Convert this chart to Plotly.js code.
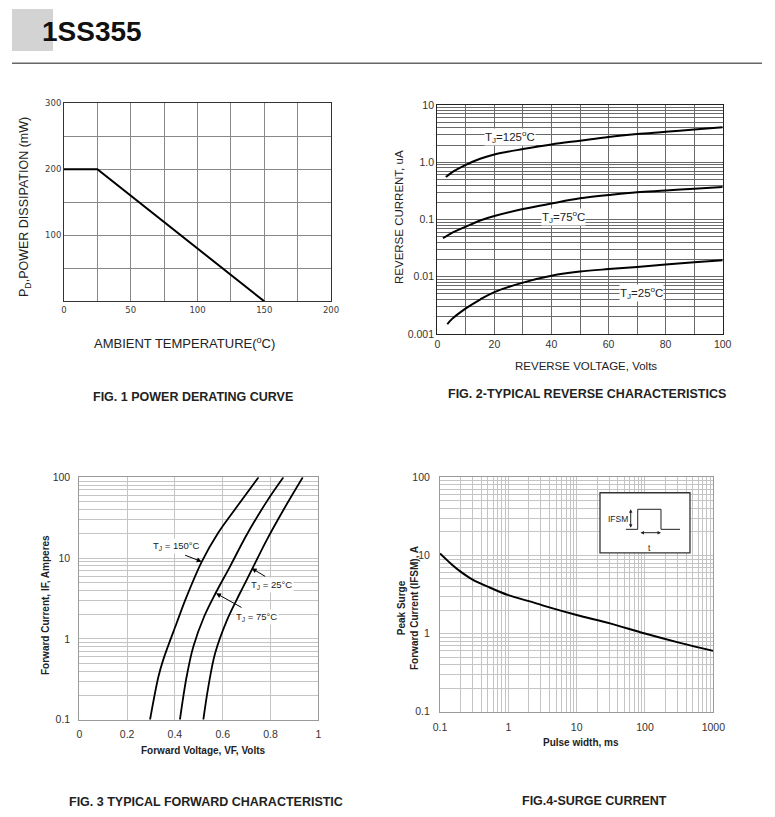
<!DOCTYPE html>
<html><head><meta charset="utf-8">
<script src="https://cdn.plot.ly/plotly-3.0.1.min.js"></script>
<style>html,body{margin:0;padding:0;background:#fff}#chart{width:775px;height:817px}</style>
</head><body><div id="chart"></div>
<script>
// ---------- Fig.1 power derating ----------
const tempC = [0, 25, 150];
const powerMW = [200, 200, 0];
const fig1XTicks = [0, 50, 100, 150, 200];
const fig1XLabels = ['0', '50', '100', '150', '200'];
const fig1YTicks = [100, 200, 300];
const fig1YLabels = ['100', '200', '300'];

// ---------- Fig.2 reverse characteristics ----------
const vr125 = [3, 5, 10, 15, 20, 30, 40, 50, 60, 70, 80, 90, 100];
const ir125 = [0.55, 0.66, 0.9, 1.15, 1.37, 1.7, 2.05, 2.38, 2.76, 3.1, 3.4, 3.75, 4.1];
const vr75 = [2, 5, 10, 15, 20, 30, 40, 50, 60, 70, 80, 90, 100];
const ir75 = [0.047, 0.058, 0.075, 0.096, 0.115, 0.152, 0.19, 0.234, 0.268, 0.30, 0.32, 0.345, 0.37];
const vr25 = [3.5, 5, 10, 15, 20, 30, 40, 50, 60, 70, 80, 90, 100];
const ir25 = [0.00148, 0.0018, 0.0028, 0.0040, 0.0054, 0.0079, 0.0104, 0.0123, 0.0136, 0.0148, 0.0163, 0.0179, 0.0194];
const fig2XTicks = [0, 20, 40, 60, 80, 100];
const fig2XLabels = ['0', '20', '40', '60', '80', '100'];
const fig2YTicks = [0.001, 0.01, 0.1, 1, 10];
const fig2YLabels = ['0.001', '0.01', '0.1', '1.0', '10'];

// ---------- Fig.3 forward characteristics ----------
const vf150 = [0.296, 0.331, 0.351, 0.407, 0.449, 0.512, 0.580, 0.660, 0.750];
const if150 = [0.1, 0.34, 0.55, 1.56, 3.33, 9.0, 20.3, 43.4, 100];
const vf75 = [0.421, 0.449, 0.477, 0.522, 0.570, 0.630, 0.700, 0.784, 0.854];
const if75 = [0.1, 0.34, 0.8, 1.88, 3.67, 7.8, 19.3, 50, 100];
const vf25 = [0.519, 0.540, 0.568, 0.618, 0.672, 0.721, 0.784, 0.854, 0.935];
const if25 = [0.1, 0.256, 0.66, 1.71, 3.67, 7.1, 16.7, 39.4, 100];
const fig3XTicks = [0, 0.2, 0.4, 0.6, 0.8, 1];
const fig3XLabels = ['0', '0.2', '0.4', '0.6', '0.8', '1'];
const fig3YTicks = [0.1, 1, 10, 100];
const fig3YLabels = ['0.1', '1', '10', '100'];

// ---------- Fig.4 surge current ----------
const pulseMs = [0.1, 0.15, 0.2, 0.3, 0.5, 1, 2, 3.25, 10, 30.8, 100, 325, 1000];
const ifsmA = [10.6, 7.6, 6.2, 4.9, 3.98, 3.1, 2.6, 2.28, 1.73, 1.35, 1.0, 0.76, 0.6];
const fig4XTicks = [0.1, 1, 10, 100, 1000];
const fig4XLabels = ['0.1', '1', '10', '100', '1000'];
const fig4YTicks = [0.1, 1, 10, 100];
const fig4YLabels = ['0.1', '1', '10', '100'];

// ---------- helpers ----------
const W = 775, H = 817;
const px = x => x / W;
const py = y => 1 - y / H;
// grid positions 2..9 x decade for log axes (grid only, not data)
function logGrid(e0, e1) {
  const v = [];
  for (let e = e0; e < e1; e++) for (let m = 2; m < 10; m++) v.push(+(m * Math.pow(10, e)).toPrecision(3));
  return v;
}

const AR = 'Liberation Sans, Arial, sans-serif';

const traces = [
  {x: tempC, y: powerMW, mode: 'lines', line: {color: '#000', width: 2}, xaxis: 'x', yaxis: 'y'},
  {x: vr125, y: ir125, mode: 'lines', line: {color: '#000', width: 2, shape: 'spline'}, xaxis: 'x2', yaxis: 'y2'},
  {x: vr75, y: ir75, mode: 'lines', line: {color: '#000', width: 2, shape: 'spline'}, xaxis: 'x2', yaxis: 'y2'},
  {x: vr25, y: ir25, mode: 'lines', line: {color: '#000', width: 2, shape: 'spline'}, xaxis: 'x2', yaxis: 'y2'},
  {x: vf150, y: if150, mode: 'lines', line: {color: '#000', width: 1.8, shape: 'spline'}, xaxis: 'x3', yaxis: 'y3'},
  {x: vf75, y: if75, mode: 'lines', line: {color: '#000', width: 1.8, shape: 'spline'}, xaxis: 'x3', yaxis: 'y3'},
  {x: vf25, y: if25, mode: 'lines', line: {color: '#000', width: 1.8, shape: 'spline'}, xaxis: 'x3', yaxis: 'y3'},
  {x: pulseMs, y: ifsmA, mode: 'lines', line: {color: '#000', width: 2, shape: 'spline'}, xaxis: 'x4', yaxis: 'y4'}
];

function ax(o) {
  return Object.assign({showline: true, mirror: true, zeroline: false, showgrid: true, tickmode: 'array', fixedrange: true, automargin: false}, o);
}

const f1tick = {family: 'DejaVu Sans, sans-serif', size: 8.5, color: '#3a3a3a'};
const f2tick = {family: AR, size: 10.5, color: '#333'};
const f3tick = {family: AR, size: 10.5, color: '#333'};
const g1 = '#888', g2 = '#6a6a6a', g3 = '#c4c4c4';

const layout = {
  width: W, height: H, showlegend: false,
  margin: {l: 0, r: 0, t: 0, b: 0},
  paper_bgcolor: '#fff', plot_bgcolor: '#fff',
  font: {family: AR, color: '#222'},
  xaxis: ax({domain: [px(64), px(331)], anchor: 'y', range: [0, 200], tickvals: fig1XTicks, ticktext: fig1XLabels,
    gridcolor: g1, linecolor: '#333', linewidth: 1, tickfont: f1tick, ticks: '',
    minor: {tickmode: 'linear', tick0: 25, dtick: 50, showgrid: true, gridcolor: g1, ticks: ''}}),
  yaxis: ax({domain: [py(301.3), py(103.3)], anchor: 'x', range: [0, 300], tickvals: fig1YTicks, ticktext: fig1YLabels,
    gridcolor: g1, linecolor: '#333', linewidth: 1, tickfont: f1tick, ticks: '',
    minor: {tickmode: 'linear', tick0: 50, dtick: 100, showgrid: true, gridcolor: g1, ticks: ''}}),
  xaxis2: ax({domain: [px(437.3), px(722.7)], anchor: 'y2', range: [0, 100], tickvals: fig2XTicks, ticktext: fig2XLabels,
    gridcolor: g2, linecolor: '#222', linewidth: 1.2, tickfont: f2tick, ticks: '',
    minor: {tickmode: 'linear', tick0: 10, dtick: 20, showgrid: true, gridcolor: g2, ticks: ''}}),
  yaxis2: ax({domain: [py(334), py(105)], anchor: 'x2', type: 'log', range: [-3, 1], tickvals: fig2YTicks, ticktext: fig2YLabels,
    gridcolor: g2, linecolor: '#222', linewidth: 1.2, tickfont: f2tick, ticks: '',
    minor: {tickmode: 'array', tickvals: logGrid(-3, 1), showgrid: true, gridcolor: g2, ticks: ''}}),
  xaxis3: ax({domain: [px(79.3), px(318.3)], anchor: 'y3', range: [0, 1], tickvals: fig3XTicks, ticktext: fig3XLabels,
    gridcolor: g3, linecolor: '#9a9a9a', linewidth: 1, tickfont: f3tick, ticks: 'outside', ticklen: 5, tickcolor: 'rgba(0,0,0,0)'}),
  yaxis3: ax({domain: [py(719.7), py(477.3)], anchor: 'x3', type: 'log', range: [-1, 2], tickvals: fig3YTicks, ticktext: fig3YLabels,
    gridcolor: g3, linecolor: '#9a9a9a', linewidth: 1, tickfont: f3tick, ticks: 'outside', ticklen: 6, tickcolor: 'rgba(0,0,0,0)',
    minor: {tickmode: 'array', tickvals: logGrid(-1, 2), showgrid: true, gridcolor: g3, ticks: ''}}),
  xaxis4: ax({domain: [px(440), px(713.3)], anchor: 'y4', type: 'log', range: [-1, 3], tickvals: fig4XTicks, ticktext: fig4XLabels,
    gridcolor: g3, linecolor: '#9a9a9a', linewidth: 1, tickfont: f3tick, ticks: 'outside', ticklen: 6, tickcolor: 'rgba(0,0,0,0)',
    minor: {tickmode: 'array', tickvals: logGrid(-1, 3), showgrid: true, gridcolor: g3, ticks: ''}}),
  yaxis4: ax({domain: [py(711.7), py(477.3)], anchor: 'x4', type: 'log', range: [-1, 2], tickvals: fig4YTicks, ticktext: fig4YLabels,
    gridcolor: g3, linecolor: '#9a9a9a', linewidth: 1, tickfont: f3tick, ticks: 'outside', ticklen: 7, tickcolor: 'rgba(0,0,0,0)',
    minor: {tickmode: 'array', tickvals: logGrid(-1, 2), showgrid: true, gridcolor: g3, ticks: ''}}),
  shapes: [
    {type: 'rect', xref: 'paper', yref: 'paper', x0: px(12), x1: px(53), y0: py(51), y1: py(9), fillcolor: '#d3d3d3', line: {width: 0}, layer: 'below'},
    {type: 'line', xref: 'paper', yref: 'paper', x0: px(12), x1: px(762), y0: py(63.3), y1: py(63.3), line: {color: '#666', width: 1.5}},
    // inset in Fig.4
    {type: 'rect', xref: 'x4 domain', yref: 'y4 domain', x0: 0.5854, x1: 0.9147, y0: 0.678, y1: 0.934, fillcolor: '#fff', line: {color: '#333', width: 1.3}},
    {type: 'line', xref: 'x4 domain', yref: 'y4 domain', x0: 0.6806, x1: 0.7234, y0: 0.778, y1: 0.778, line: {color: '#222', width: 1}},
    {type: 'line', xref: 'x4 domain', yref: 'y4 domain', x0: 0.7234, x1: 0.7234, y0: 0.778, y1: 0.8635, line: {color: '#222', width: 1}},
    {type: 'line', xref: 'x4 domain', yref: 'y4 domain', x0: 0.7234, x1: 0.8086, y0: 0.8635, y1: 0.8635, line: {color: '#222', width: 1}},
    {type: 'line', xref: 'x4 domain', yref: 'y4 domain', x0: 0.8086, x1: 0.8086, y0: 0.8635, y1: 0.778, line: {color: '#222', width: 1}},
    {type: 'line', xref: 'x4 domain', yref: 'y4 domain', x0: 0.8086, x1: 0.8781, y0: 0.778, y1: 0.778, line: {color: '#222', width: 1}}
  ],
  annotations: []
};

function txt(x, y, text, size, extra) {
  return Object.assign({xref: 'paper', yref: 'paper', x: px(x), y: py(y), xanchor: 'center', yanchor: 'middle',
    showarrow: false, text: text, font: {family: AR, size: size, color: '#222'}}, extra || {});
}
function arrow(xr, yr, x, y, axp, ayp, extra) {
  return Object.assign({xref: xr, yref: yr, x: x, y: y, ax: axp, ay: ayp, showarrow: true, text: '',
    arrowhead: 2, arrowsize: 1, arrowwidth: 1, arrowcolor: '#000'}, extra || {});
}

layout.annotations = [
  // header
  txt(40, 31.7, '<b>1SS355</b>', 28, {xanchor: 'left', font: {family: AR, size: 28, color: '#111'}}),
  // Fig.1
  txt(25, 207, 'P<sub>D</sub>,POWER DISSIPATION (mW)', 12.5, {textangle: -90}),
  txt(184, 343.3, 'AMBIENT TEMPERATURE(<sup>o</sup>C)', 13),
  txt(193, 396.7, '<b>FIG. 1 POWER DERATING CURVE</b>', 12.5),
  // Fig.2
  txt(398.3, 216.7, 'REVERSE CURRENT, uA', 11.5, {textangle: -90}),
  txt(586, 366, 'REVERSE VOLTAGE, Volts', 11.5),
  txt(587, 394.3, '<b>FIG. 2-TYPICAL REVERSE CHARACTERISTICS</b>', 12.5),
  txt(510, 136.7, 'T<sub>J</sub>=125<sup>o</sup>C', 11.5, {bgcolor: '#fff', borderpad: 0}),
  txt(563, 216.7, 'T<sub>J</sub>=75<sup>o</sup>C', 11.5, {bgcolor: '#fff', borderpad: 0}),
  txt(641, 293.3, 'T<sub>J</sub>=25<sup>o</sup>C', 11.5, {bgcolor: '#fff', borderpad: 0}),
  // Fig.3
  txt(45, 605, '<b>Forward Current, IF, Amperes</b>', 10, {textangle: -90}),
  txt(203, 750, '<b>Forward Voltage, VF, Volts</b>', 10),
  txt(206, 801.7, '<b>FIG. 3 TYPICAL FORWARD CHARACTERISTIC</b>', 12.5),
  txt(176.7, 546, 'T<sub>J</sub> = 150°C', 9.5, {bgcolor: '#fff'}),
  arrow('x3 domain', 'y3 domain', 0.512, 0.652, -18, -7),
  txt(271.7, 585, 'T<sub>J</sub> = 25°C', 9.5, {bgcolor: '#fff'}),
  arrow('x3 domain', 'y3 domain', 0.7213, 0.6246, 15, 9),
  txt(256.7, 616.7, 'T<sub>J</sub> = 75°C', 9.5, {bgcolor: '#fff'}),
  arrow('x3 domain', 'y3 domain', 0.572, 0.5215, 27, 15),
  // Fig.4
  txt(408, 608, '<b>Peak Surge<br>Forward Current (IFSM), A</b>', 10, {textangle: -90}),
  txt(581, 742.7, '<b>Pulse width, ms</b>', 10),
  txt(594, 800.6, '<b>FIG.4-SURGE CURRENT</b>', 12.5),
  txt(618.3, 519.3, 'IFSM', 8.5),
  txt(649.3, 547.5, 't', 8.5),
  arrow('x4 domain', 'y4 domain', 0.6978, 0.8635, 0, 20, {arrowside: 'end+start', arrowsize: 0.7, arrowcolor: '#222', standoff: 0, startstandoff: 0}),
  arrow('x4 domain', 'y4 domain', 0.8086, 0.7637, -22, 0, {arrowside: 'end+start', arrowsize: 0.7, arrowcolor: '#222', standoff: 0, startstandoff: 0})
];

Plotly.newPlot('chart', traces, layout, {displayModeBar: false, staticPlot: true});
</script>
</body></html>
